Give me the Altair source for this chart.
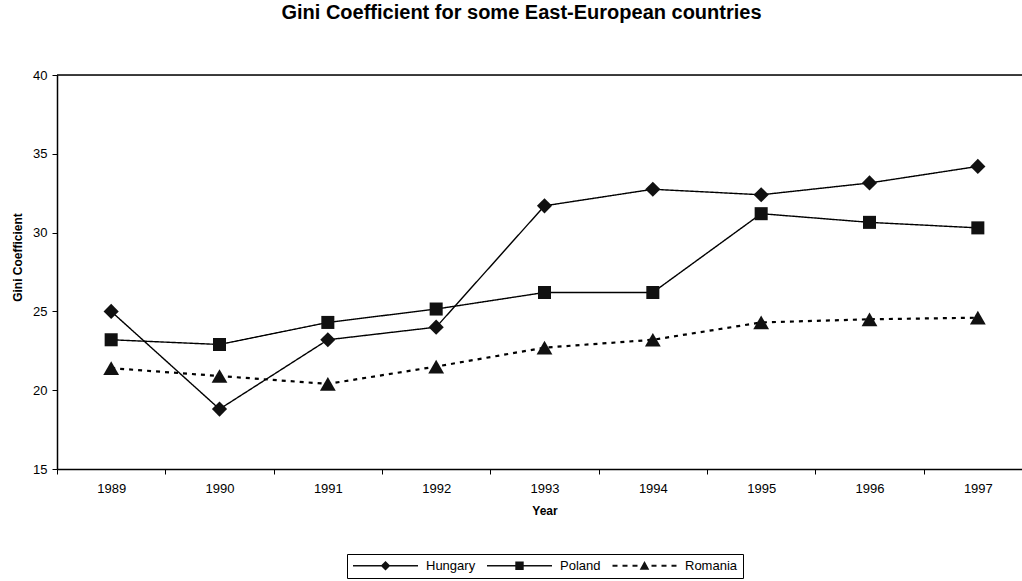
import altair as alt
import pandas as pd

# Gini coefficients, 1989-1997
years = [1989, 1990, 1991, 1992, 1993, 1994, 1995, 1996, 1997]
hungary = [25.0, 18.8, 23.2, 24.0, 31.7, 32.75, 32.4, 33.15, 34.2]
poland = [23.2, 22.9, 24.3, 25.15, 26.2, 26.2, 31.2, 30.65, 30.3]
romania = [21.4, 20.9, 20.4, 21.5, 22.7, 23.2, 24.3, 24.5, 24.6]
countries = ["Hungary", "Poland", "Romania"]
y_ticks = [15, 20, 25, 30, 35, 40]

rows = []
for name, vals in zip(countries, [hungary, poland, romania]):
    for yr, v in zip(years, vals):
        rows.append({"Year": str(yr), "Country": name, "Gini": v})
df = pd.DataFrame(rows)
frame = pd.DataFrame({"top": [max(y_ticks)]})

FONT = "Liberation Sans"
W, H = 965, 394          # visible plot area
X_SPAN = 975             # category range runs slightly past the right edge

# Legend glyphs: a line segment with the series marker in the middle, drawn as
# filled outlines. Symbol size 144 -> one path unit is 6 px.
U = 6.0


def bar(x0, x1, thick):
    a, b, h = x0 / U, x1 / U, thick / 2 / U
    return f"M{a:.3f},{-h:.3f}L{b:.3f},{-h:.3f}L{b:.3f},{h:.3f}L{a:.3f},{h:.3f}Z"


solid = bar(-32.5, 32.5, 1.4)
dashed = "".join(bar(a, a + 5, 2.2) for a in (-32, -22, -12, 7, 17, 27))
LEG_H = solid + "M0,-0.8L0.8,0L0,0.8L-0.8,0Z"
LEG_P = solid + "M-0.7,-0.7L0.7,-0.7L0.7,0.7L-0.7,0.7Z"
LEG_R = dashed + "M0,-0.8L0.8,0.65L-0.8,0.65Z"
LEG_SHAPE = (
    f"datum.value === 'Hungary' ? '{LEG_H}' : "
    f"(datum.value === 'Poland' ? '{LEG_P}' : '{LEG_R}')"
)

x_enc = alt.X(
    "Year:O",
    scale=alt.Scale(type="band", range=[0, X_SPAN], paddingInner=0, paddingOuter=0),
    axis=alt.Axis(
        title="Year", labelAngle=0, tickBand="extent", tickSize=5, tickColor="black",
        domainColor="black", domainWidth=1.5, labelFont=FONT, labelFontSize=13,
        labelColor="black", labelPadding=8, titleFont=FONT, titleFontSize=12,
        titleFontWeight="bold", titleColor="black", titleX=X_SPAN / 2, titleY=36,
        titleBaseline="top", titleAnchor="middle",
    ),
)
y_enc = alt.Y(
    "Gini:Q",
    scale=alt.Scale(domain=[15, 40], nice=False, zero=False),
    axis=alt.Axis(
        values=y_ticks, grid=False, title="Gini Coefficient", tickSize=5,
        tickColor="black", domainColor="black", domainWidth=1.5, labelFont=FONT,
        labelFontSize=13, labelColor="black", labelPadding=5, titleFont=FONT,
        titleFontSize=12, titleFontWeight="bold", titleColor="black",
        titleX=-36, titleY=182, titleBaseline="alphabetic", titleAngle=270,
    ),
)

lines = alt.Chart(df).mark_line(color="black").encode(
    x=x_enc,
    y=y_enc,
    strokeDash=alt.StrokeDash(
        "Country:N",
        scale=alt.Scale(domain=countries, range=[[1, 0], [1, 0], [4, 5]]),
        legend=alt.Legend(
            title=None, orient="none", legendX=290, legendY=479, direction="horizontal",
            columns=3, columnPadding=10, symbolSize=144, symbolOffset=27, labelOffset=34,
            symbolType={"expr": LEG_SHAPE},
            symbolStrokeWidth=0, symbolFillColor="#111111",
            labelFont=FONT, labelFontSize=13, labelColor="black", strokeColor="black",
            padding=5, fillColor="white",
        ),
    ),
    strokeWidth=alt.condition(
        alt.datum.Country == "Romania", alt.value(2.2), alt.value(1.4)
    ),
)

# one marker layer per country
marker_style = {"Hungary": ("diamond", 230), "Poland": ("square", 170), "Romania": ("triangle-up", 250)}
marker_layers = [
    alt.Chart(df)
    .transform_filter(alt.datum.Country == name)
    .mark_point(filled=True, opacity=1, color="#111111", shape=shp, size=sz)
    .encode(x=x_enc, y=y_enc)
    for name, (shp, sz) in marker_style.items()
]

top_line = alt.Chart(frame).mark_rule(color="black", strokeWidth=1.5).encode(
    y=alt.Y("top:Q"), x=alt.value(0), x2=alt.value(W)
)

chart = (
    alt.layer(lines, *marker_layers, top_line)
    .properties(
        width=W,
        height=H,
        autosize=alt.AutoSizeParams(type="none"),
        padding={"left": 57, "top": 75, "right": 0, "bottom": 112},
        title=alt.TitleParams(
            "Gini Coefficient for some East-European countries",
            font=FONT, fontSize=20, fontWeight="bold", color="black",
            anchor="middle", dx=-18, offset=46,
        ),
    )
    .configure_view(strokeWidth=0)
    .configure(background="white")
)

chart.save("out.html", embed_options={"renderer": "svg", "actions": False})
